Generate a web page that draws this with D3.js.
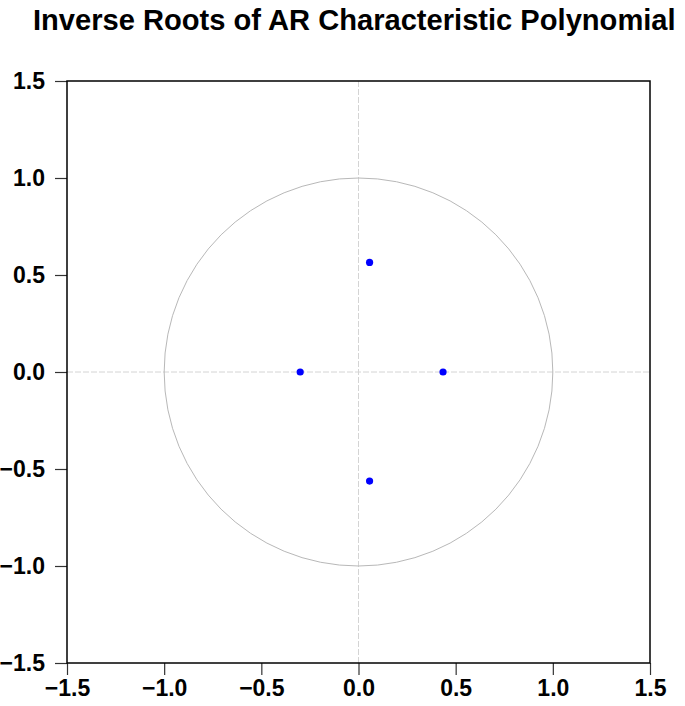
<!DOCTYPE html>
<html>
<head>
<meta charset="utf-8">
<script src="https://cdn.jsdelivr.net/npm/d3@7"></script>
<style>
  body { margin: 0; background: #fff; }
  svg { display: block; }
  .axis text { font-family: "Liberation Sans", Arial, sans-serif; font-size: 23px; font-weight: bold; fill: #000; }
  .axis path { display: none; }
  .axis line { stroke: #333; stroke-width: 1.2; }
</style>
</head>
<body>
<div id="chart"></div>
<script>
// inverse roots (real, imaginary)
var rootRe = [0.057, 0.057, -0.300, 0.435];
var rootIm = [0.565, -0.562, 0, 0];
var tickValues = [-1.5, -1.0, -0.5, 0.0, 0.5, 1.0, 1.5];
var titleText = "Inverse Roots of AR Characteristic Polynomial";

var w = 685, h = 706,
    marginTop = 81, marginBottom = 43, marginLeft = 67, marginRight = 35,
    contentsWidth = w - marginLeft - marginRight,
    contentsHeight = h - marginTop - marginBottom;

var svg = d3.select("#chart")
  .append("svg")
  .attr("width", w)
  .attr("height", h);

// title: squeeze horizontally to the width it has in the picture
var title = svg.append("text")
  .attr("x", 0)
  .attr("y", 0)
  .style("font-family", "'Liberation Sans', Arial, sans-serif")
  .style("font-size", "30px")
  .style("font-weight", "bold")
  .text(titleText);
var natural = title.node().getComputedTextLength();
title.attr("transform", "translate(33, 30) scale(" + (643 / natural) + ", 1)");

var chartG = svg.append("g")
  .attr("transform", "translate(" + marginLeft + ", " + marginTop + ")");

var xScale = d3.scaleLinear().domain([-1.5, 1.5]).range([0, contentsWidth]);
var yScale = d3.scaleLinear().domain([-1.5, 1.5]).range([contentsHeight, 0]);

// zero lines
chartG.append("line")
  .attr("x1", xScale(0)).attr("x2", xScale(0))
  .attr("y1", 0).attr("y2", contentsHeight)
  .style("stroke", "#d4d4d4")
  .style("stroke-dasharray", "6,2");

chartG.append("line")
  .attr("x1", 0).attr("x2", contentsWidth)
  .attr("y1", yScale(0)).attr("y2", yScale(0))
  .style("stroke", "#d4d4d4")
  .style("stroke-dasharray", "6,2");

// unit circle
chartG.append("ellipse")
  .attr("cx", xScale(0))
  .attr("cy", yScale(0))
  .attr("rx", xScale(1) - xScale(0))
  .attr("ry", yScale(0) - yScale(1))
  .style("fill", "none")
  .style("stroke", "#b8b8b8")
  .style("stroke-width", 1);

// roots
chartG.append("g").selectAll("circle")
  .data(d3.range(rootRe.length))
  .enter().append("circle")
  .attr("cx", function(i) { return xScale(rootRe[i]); })
  .attr("cy", function(i) { return yScale(rootIm[i]); })
  .attr("r", 3.6)
  .style("fill", "#0000ff");

var fmt = d3.format(".1f");

chartG.append("g")
  .attr("class", "x axis")
  .attr("transform", "translate(0, " + contentsHeight + ")")
  .call(d3.axisBottom(xScale).tickValues(tickValues).tickFormat(fmt).tickSize(12).tickPadding(5));

chartG.append("g")
  .attr("class", "y axis")
  .call(d3.axisLeft(yScale).tickValues(tickValues).tickFormat(fmt).tickSize(12).tickPadding(10));

// frame
chartG.append("rect")
  .attr("x", 0).attr("y", 0)
  .attr("width", contentsWidth)
  .attr("height", contentsHeight)
  .style("fill", "none")
  .style("stroke", "#000")
  .style("stroke-width", 1.5);
</script>
</body>
</html>
